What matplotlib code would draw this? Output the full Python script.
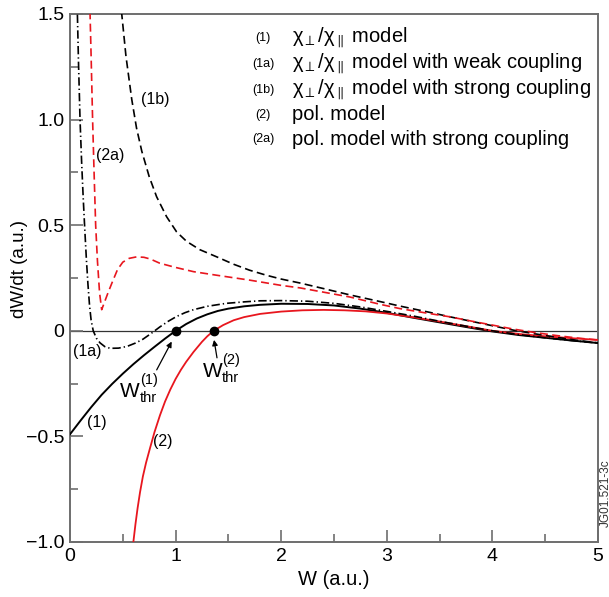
import matplotlib
matplotlib.use("Agg")
import matplotlib.pyplot as plt
import numpy as np

plt.rcParams['font.family'] = ['Liberation Sans', 'DejaVu Sans']
plt.rcParams['mathtext.fontset'] = 'custom'
plt.rcParams['mathtext.rm'] = 'Liberation Sans'
plt.rcParams['mathtext.it'] = 'Liberation Sans'
plt.rcParams['mathtext.bf'] = 'Liberation Sans:bold'
plt.rcParams['mathtext.fallback'] = 'stixsans'

# ---- data ----
w1 = [0, 0.1, 0.2, 0.3, 0.4, 0.5, 0.6, 0.7, 0.8, 0.9, 1.0, 1.1, 1.2, 1.3, 1.4, 1.5,
      1.65, 1.8, 2.0, 2.25, 2.5, 2.75, 3.0, 3.25, 3.5, 3.75, 4.0, 4.25, 4.5, 4.75, 5.0]
v1 = [-0.49, -0.425, -0.362, -0.303, -0.251, -0.203, -0.158, -0.116, -0.076, -0.037,
      0.0, 0.032, 0.058, 0.078, 0.094, 0.105, 0.116, 0.123, 0.128, 0.127, 0.12, 0.105,
      0.085, 0.062, 0.04, 0.018, -0.003, -0.02, -0.033, -0.046, -0.058]

w2 = [0.59, 0.6, 0.62, 0.64, 0.663, 0.69, 0.72, 0.758, 0.8, 0.852, 0.9, 0.95, 1.0,
      1.05, 1.1, 1.17, 1.25, 1.3, 1.36, 1.45, 1.55, 1.65, 1.8, 2.0, 2.2, 2.4, 2.6, 2.8,
      3.0, 3.25, 3.5, 3.75, 4.0, 4.25, 4.5, 4.75, 5.0]
v2 = [-1.05, -1.0, -0.915, -0.84, -0.765, -0.69, -0.625, -0.555, -0.48, -0.40,
      -0.335, -0.278, -0.228, -0.185, -0.147, -0.10, -0.052, -0.026, 0.0, 0.027,
      0.05, 0.065, 0.08, 0.091, 0.097, 0.099, 0.097, 0.092, 0.082, 0.064, 0.044,
      0.022, 0.0, -0.015, -0.026, -0.035, -0.043]

w1a = [0.065, 0.07, 0.08, 0.095, 0.11, 0.125, 0.14, 0.155, 0.17, 0.185, 0.2, 0.22, 0.25,
       0.284, 0.33, 0.38, 0.46, 0.54, 0.62, 0.69, 0.77, 0.85, 0.93, 1.01, 1.09, 1.17,
       1.3, 1.48, 1.65, 1.8, 2.0, 2.25, 2.5, 2.75, 3.0, 3.25, 3.5, 3.75, 4.0, 4.25,
       4.5, 4.75, 5.0]
v1a = [1.6, 1.5, 1.28, 1.0, 0.8, 0.63, 0.48, 0.34, 0.22, 0.12, 0.05, 0.0, -0.035,
       -0.057, -0.075, -0.083, -0.082, -0.074, -0.058, -0.04, -0.012, 0.018, 0.045,
       0.068, 0.086, 0.1, 0.116, 0.13, 0.137, 0.142, 0.143, 0.14, 0.13, 0.113, 0.092,
       0.07, 0.045, 0.022, 0.0, -0.018, -0.033, -0.046, -0.058]

w1b = [0.48, 0.49, 0.53, 0.585, 0.63, 0.68, 0.75, 0.82, 0.915, 1.01, 1.105, 1.23,
       1.39, 1.55, 1.7, 1.86, 2.0, 2.18, 2.4, 2.65, 2.94, 3.125, 3.4, 3.6, 3.8, 4.0,
       4.2, 4.4, 4.6, 4.8, 5.0]
v1b = [1.6, 1.5, 1.3, 1.095, 0.96, 0.85, 0.73, 0.635, 0.54, 0.468, 0.423, 0.384,
       0.35, 0.315, 0.287, 0.263, 0.245, 0.226, 0.2, 0.17, 0.138, 0.117, 0.088,
       0.066, 0.045, 0.024, 0.003, -0.014, -0.03, -0.045, -0.057]

w2a = [0.185, 0.19, 0.2, 0.214, 0.228, 0.243, 0.26, 0.28, 0.3, 0.33, 0.36, 0.4, 0.45,
       0.5, 0.56, 0.63, 0.7, 0.76, 0.85, 1.0, 1.17, 1.39, 1.7, 2.0, 2.18, 2.4, 2.65,
       2.94, 3.125, 3.4, 3.6, 3.8, 4.0, 4.2, 4.4, 4.6, 4.8, 5.0]
v2a = [1.6, 1.5, 1.3, 1.0, 0.75, 0.5, 0.33, 0.18, 0.1, 0.14, 0.18, 0.23, 0.29, 0.325,
       0.343, 0.35, 0.348, 0.34, 0.32, 0.3, 0.28, 0.263, 0.24, 0.215, 0.203, 0.183,
       0.16, 0.125, 0.105, 0.082, 0.066, 0.046, 0.027, 0.008, -0.008, -0.022, -0.034,
       -0.044]

w_thr = [1.0, 1.36]
v_thr = [0.0, 0.0]

legend_keys = ['(1)', '(1a)', '(1b)', '(2)', '(2a)']
legend_texts = [r'$\chi_{\perp}/\chi_{\parallel}$ model',
                r'$\chi_{\perp}/\chi_{\parallel}$ model with weak coupling',
                r'$\chi_{\perp}/\chi_{\parallel}$ model with strong coupling',
                'pol. model',
                'pol. model with strong coupling']

xticks = [0, 1, 2, 3, 4, 5]
yticks = [-1.0, -0.5, 0, 0.5, 1.0, 1.5]
yticklabels = ['\u22121.0', '\u22120.5', '0', '0.5', '1.0', '1.5']

RED = '#e8161e'
GRAY = '#6e6e6e'

fig = plt.figure(figsize=(6.09, 5.97), dpi=100)
ax = fig.add_axes([70/609, 1-542/597, 528/609, 528/597])
ax.set_xlim(0, 5)
ax.set_ylim(-1.0, 1.5)

ax.axhline(0, color='#333333', lw=0.9, zorder=1)

ax.plot(w1, v1, color='black', lw=1.4, zorder=3)
ax.plot(w2, v2, color=RED, lw=1.3, zorder=3)
ax.plot(w1a, v1a, color='black', lw=1.2, dashes=(5, 1.8, 0.8, 1.8), zorder=3)
ax.plot(w1b, v1b, color='black', lw=1.2, dashes=(4.8, 2.6), zorder=3)
ax.plot(w2a, v2a, color=RED, lw=1.2, dashes=(4.8, 2.6), zorder=3)
ax.plot(w_thr, v_thr, 'o', color='black', ms=6, zorder=4)

for s in ax.spines.values():
    s.set_color(GRAY)
    s.set_linewidth(1.4)

ax.set_xticks(xticks)
ax.set_xticklabels([str(t) for t in xticks])
ax.set_yticks(yticks)
ax.set_yticklabels(yticklabels)
ax.set_xticks(np.arange(0.5, 5, 1.0), minor=True)
ax.set_yticks(np.arange(-0.75, 1.5, 0.5), minor=True)
ax.tick_params(which='both', direction='in', color=GRAY, width=1.2,
               labelsize=14, top=False, right=False)
ax.tick_params(which='major', length=9, pad=4)
ax.tick_params(which='minor', length=5.5)

ax.set_xlabel('W (a.u.)', fontsize=14.5, labelpad=4)
fig.text(20/609, 1-269/597, 'dW/dt (a.u.)', rotation=90, fontsize=13.5,
         ha='center', va='center')

# legend as text
ys = [1.388, 1.264, 1.142, 1.024, 0.908]
for k, t, y in zip(legend_keys, legend_texts, ys):
    ax.text(1.83, y, k, fontsize=9, ha='center', va='center')
    ax.text(2.10, y, t, fontsize=14.5, ha='left', va='center')

# curve labels
ax.text(0.805, 1.095, '(1b)', fontsize=11.5, ha='center', va='center')
ax.text(0.379, 0.829, '(2a)', fontsize=11.5, ha='center', va='center')
ax.text(0.161, -0.10, '(1a)', fontsize=11.5, ha='center', va='center')
ax.text(0.256, -0.436, '(1)', fontsize=11.5, ha='center', va='center')
ax.text(0.88, -0.526, '(2)', fontsize=11.5, ha='center', va='center')

# threshold labels
ax.text(0.4735, -0.3128, 'W', fontsize=15, ha='left', va='baseline')
ax.text(0.663, -0.232, '(1)', fontsize=10.5, ha='left', va='center')
ax.text(0.663, -0.3365, 'thr', fontsize=10.5, ha='left', va='baseline')
ax.text(1.2595, -0.218, 'W', fontsize=15, ha='left', va='baseline')
ax.text(1.439, -0.137, '(2)', fontsize=10.5, ha='left', va='center')
ax.text(1.439, -0.2417, 'thr', fontsize=10.5, ha='left', va='baseline')

ax.annotate('', xy=(0.963, -0.051), xytext=(0.821, -0.185),
            arrowprops=dict(arrowstyle='-|>', color='black', lw=0.9,
                            mutation_scale=8, shrinkA=0, shrinkB=0))
ax.annotate('', xy=(1.364, -0.043), xytext=(1.392, -0.128),
            arrowprops=dict(arrowstyle='-|>', color='black', lw=0.9,
                            mutation_scale=8, shrinkA=0, shrinkB=0))

fig.text(606/609, 1-493/597, 'JG01.521-3c', rotation=90, fontsize=8.5,
         ha='center', va='center', color='#333333')

fig.savefig('out.png', dpi=100)
